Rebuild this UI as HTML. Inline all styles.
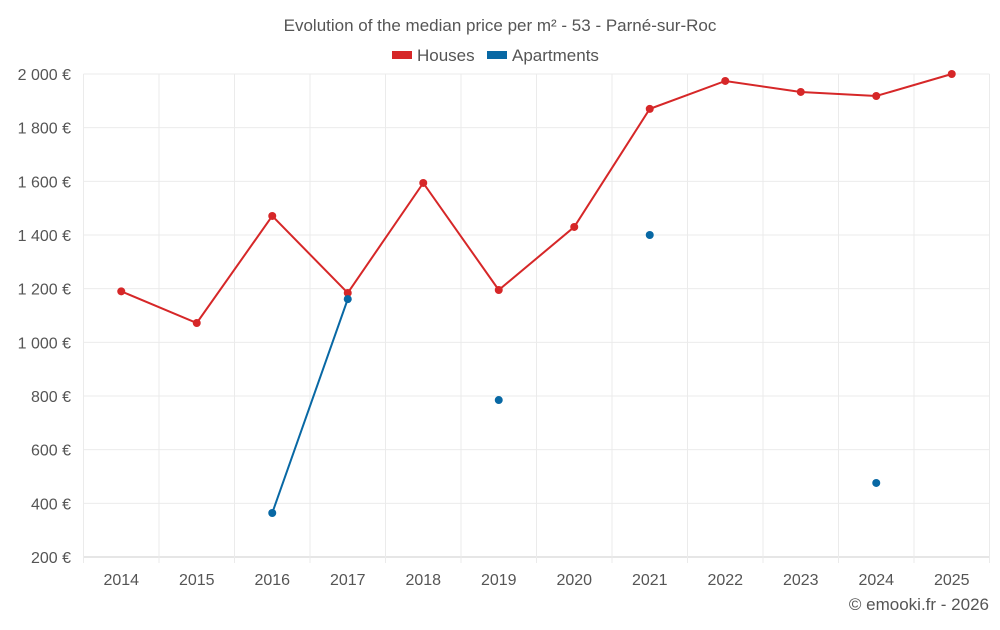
<!DOCTYPE html>
<html><head><meta charset="utf-8"><style>
body{margin:0;background:#fff;font-family:"Liberation Sans",sans-serif;}
svg text{font-family:"Liberation Sans",sans-serif;fill:#555;}
</style></head><body>
<svg id="chart" width="1000" height="625" xmlns="http://www.w3.org/2000/svg">
<text x="500" y="31" text-anchor="middle" font-size="17">Evolution of the median price per m² - 53 - Parné-sur-Roc</text>
<g>
<g><rect x="392" y="51" width="20" height="8" fill="#d62728"/><text x="417" y="61" font-size="17">Houses</text></g>
<g><rect x="487" y="51" width="20" height="8" fill="#0868a4"/><text x="512" y="61" font-size="17">Apartments</text></g>
</g>
<g id="grid"></g>
<g id="axes"></g>
<g id="series"></g>
<text x="989" y="610" text-anchor="end" font-size="17">© emooki.fr - 2026</text>
</svg>
<script>
const years=["2014","2015","2016","2017","2018","2019","2020","2021","2022","2023","2024","2025"];
const houses=[1190,1072,1471,1184,1594,1195,1430,1870,1974,1933,1918,2000];
const apartments=[null,null,364,1161,null,785,null,1400,null,null,476,null];
const yTicks=[200,400,600,800,1000,1200,1400,1600,1800,2000];
const yTickLabels=["200 €","400 €","600 €","800 €","1 000 €","1 200 €","1 400 €","1 600 €","1 800 €","2 000 €"];
const NS="http://www.w3.org/2000/svg";
const L=83.5,R=989.5,T=74,B=557,yMin=200,yMax=2000;
const bw=(R-L)/years.length;
const x=i=>L+bw*(i+0.5);
const y=v=>B-(v-yMin)/(yMax-yMin)*(B-T);
function mk(tag,attrs,parent){const e=document.createElementNS(NS,tag);for(const k in attrs)e.setAttribute(k,attrs[k]);parent.appendChild(e);return e;}
const grid=document.getElementById('grid'),axes=document.getElementById('axes'),series=document.getElementById('series');
yTicks.forEach((t,i)=>{
  const ln=mk('line',{x1:L,x2:R,y1:y(t),y2:y(t),stroke:i===0?'#ccc':'#ebebeb'},grid);
  
  
  const tx=mk('text',{x:71,y:y(t)+6,'text-anchor':'end','font-size':16},axes);
  tx.textContent=yTickLabels[i];
  
  
});
for(let i=0;i<=years.length;i++){
  const ln=mk('line',{x1:L+bw*i,x2:L+bw*i,y1:T,y2:B+(i<years.length+1?6:0),stroke:'#ebebeb'},grid);
  
  
}
years.forEach((yr,i)=>{
  const tx=mk('text',{x:x(i),y:585,'text-anchor':'middle','font-size':16},axes);
  tx.textContent=yr;
  
  
});
function draw(vals,color,name){
  let d='',pen=false;
  vals.forEach((v,i)=>{if(v==null){pen=false;return;}d+=(pen?'L':'M')+x(i)+' '+y(v)+' ';pen=true;});
  const p=mk('path',{d:d,fill:'none',stroke:color,'stroke-width':2},series);
  
  
  vals.forEach((v,i)=>{if(v==null)return;
    const c=mk('circle',{cx:x(i),cy:y(v),r:4,fill:color},series);
    
    
  });
}
draw(houses,'#d62728','houses');
draw(apartments,'#0868a4','apartments');
</script>
</body></html>
